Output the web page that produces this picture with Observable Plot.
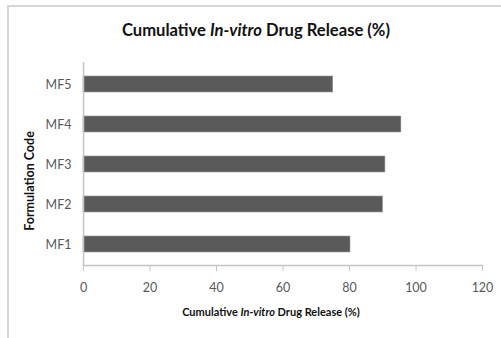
<!DOCTYPE html>
<html>
<head>
<meta charset="utf-8">
<script src="https://cdn.jsdelivr.net/npm/d3@7"></script>
<script src="https://cdn.jsdelivr.net/npm/@observablehq/plot@0.6"></script>
<style>
  html, body { margin: 0; padding: 0; background: #fff; }
  #wrap { position: relative; width: 501px; height: 338px; overflow: hidden; font-family: Lato, "Open Sans", sans-serif; }
  #frame { position: absolute; left: 7px; top: 5px; width: 600px; height: 600px; border-left: 2px solid #d6d6d6; border-top: 2px solid #d6d6d6; }
  #title { position: absolute; left: 0; top: 22px; width: 512px; text-align: center; font-size: 16.6px; font-weight: bold; color: #111; line-height: 1; }
  #chart { position: absolute; left: 0; top: 48px; }
  #xlabel { position: absolute; left: 0; top: 306px; width: 542px; text-align: center; font-size: 11px; font-weight: bold; color: #111; line-height: 1; }
</style>
</head>
<body>
<div id="wrap">
  <div id="frame"></div>
  <div id="title">Cumulative <i>In-vitro</i> Drug Release (%)</div>
  <div id="chart"></div>
  <div id="xlabel">Cumulative <i>In-vitro</i> Drug Release (%)</div>
</div>
<script>
const categories = ["MF1", "MF2", "MF3", "MF4", "MF5"];
const releaseValues = [80.3, 90.1, 90.8, 95.6, 75.1];
const xTicks = [0, 20, 40, 60, 80, 100, 120];
const yAxisTitle = "Formulation Code";

const data = categories.map((c, i) => ({code: c, value: releaseValues[i]}));

const plot = Plot.plot({
  width: 501,
  height: 252,
  marginTop: 14,
  marginBottom: 35,
  marginLeft: 83,
  marginRight: 19,
  style: {fontFamily: "Lato, 'Open Sans', sans-serif", fontSize: "12.5px", color: "#595959", background: "transparent"},
  x: {domain: [0, 120], ticks: xTicks, label: null},
  y: {domain: categories.slice().reverse(), paddingInner: 0.6, paddingOuter: 0.3, label: null},
  marks: [
    Plot.barX(data, {x: "value", y: "code", fill: "#5a5a5a", stroke: "#9a9a9a", strokeWidth: 0.6}),
    Plot.ruleX([0], {stroke: "#c4c4c4", strokeWidth: 1.5}),
    Plot.frame({anchor: "bottom", stroke: "#c4c4c4", strokeWidth: 1.5}),
    Plot.axisX({ticks: xTicks, tickSize: 6, tickPadding: 12, stroke: "#c4c4c4", label: null, fill: "#595959"}),
    Plot.axisY({tickSize: 0, tickPadding: 12, label: null, fill: "#595959"})
  ]
});
document.getElementById("chart").appendChild(plot);

d3.select(plot).append("text")
  .attr("transform", "translate(34,133) rotate(-90)")
  .attr("text-anchor", "middle")
  .attr("font-size", "12.5px")
  .attr("font-weight", "bold")
  .attr("fill", "#111")
  .text(yAxisTitle);
</script>
</body>
</html>
